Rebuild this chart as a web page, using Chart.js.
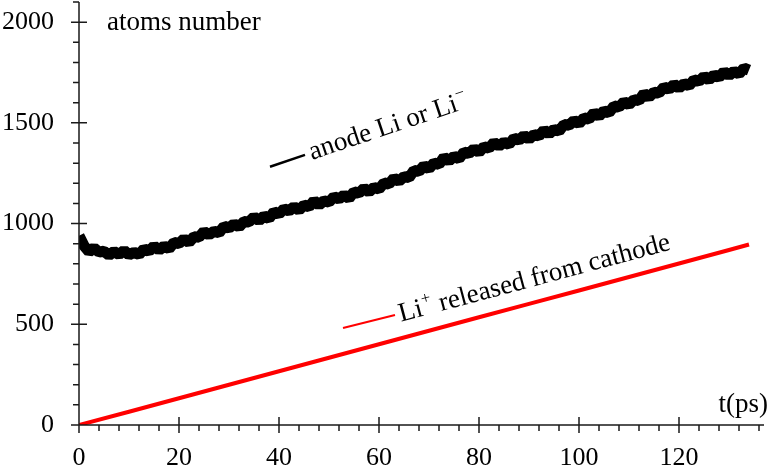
<!DOCTYPE html>
<html>
<head>
<meta charset="utf-8">
<script src="https://cdn.jsdelivr.net/npm/chart.js@4"></script>
<style>
  html, body { margin: 0; padding: 0; background: #fff; }
  #wrap { width: 774px; height: 469px; }
</style>
</head>
<body>
<div id="wrap"><canvas id="atomsChart" width="774" height="469"></canvas></div>
<script>
// Data
// ------------------------------------------------------------------
// anode Li / Li-, one value per ps from t = 0 to 134
const anodeLi = [
  940, 890, 860, 879, 858, 863, 843, 861, 846, 867,
  844, 857, 846, 875, 862, 889, 868, 888, 875, 906,
  901, 924, 906, 935, 932, 961, 944, 962, 954, 987,
  977, 999, 983, 1010, 1008, 1033, 1014, 1038, 1025, 1059,
  1047, 1074, 1063, 1083, 1066, 1092, 1083, 1114, 1092, 1113,
  1106, 1134, 1122, 1142, 1125, 1158, 1151, 1175, 1157, 1180,
  1171, 1202, 1196, 1226, 1210, 1233, 1228, 1264, 1259, 1288,
  1272, 1301, 1294, 1329, 1311, 1334, 1322, 1355, 1348, 1372,
  1354, 1382, 1374, 1403, 1385, 1404, 1393, 1424, 1414, 1438,
  1419, 1443, 1434, 1465, 1444, 1468, 1459, 1492, 1488, 1512,
  1496, 1525, 1519, 1551, 1533, 1560, 1550, 1584, 1578, 1605,
  1590, 1616, 1610, 1646, 1627, 1653, 1648, 1678, 1666, 1692,
  1673, 1695, 1684, 1714, 1706, 1731, 1713, 1738, 1726, 1755,
  1735, 1756, 1743, 1772, 1762
];
const anodeT = anodeLi.map((_, i) => i);

// Li+ released from cathode
const releasedT  = [0, 10, 20, 30, 40, 50, 60, 70, 80, 90, 100, 110, 120, 130, 134];
const releasedLi = [0, 66, 133, 200, 267, 334, 401, 468, 535, 601, 668, 735, 802, 869, 896];

// axis ranges / tick steps
const xMax = 137, xMajor = 20, xMinor = 4;
const yMax = 2100, yMajor = 500, yMinor = 100;

const FONT = '"Liberation Serif", "Times New Roman", serif';

// Tick marks + axis lines (crossing major ticks, outside minor ticks)
const axisTicks = {
  id: 'axisTicks',
  afterDraw(chart) {
    const { ctx, scales: { x, y } } = chart;
    const x0 = x.getPixelForValue(0);
    const y0 = y.getPixelForValue(0);
    ctx.save();
    ctx.strokeStyle = '#1a1a1a';
    ctx.lineWidth = 1.5;
    ctx.beginPath();
    // axis lines
    ctx.moveTo(x0, y.getPixelForValue(yMax));
    ctx.lineTo(x0, y0);
    ctx.moveTo(x0, y0);
    ctx.lineTo(x.getPixelForValue(xMax), y0);
    // y ticks
    for (let v = 0; v <= yMax; v += yMinor) {
      const py = y.getPixelForValue(v);
      if (v % yMajor === 0) { ctx.moveTo(x0 - 8, py); ctx.lineTo(x0 + 8, py); }
      else { ctx.moveTo(x0 - 6, py); ctx.lineTo(x0, py); }
    }
    // x ticks
    for (let t = 0; t <= xMax; t += xMinor) {
      const px = x.getPixelForValue(t);
      if (t % xMajor === 0) { ctx.moveTo(px, y0 - 8); ctx.lineTo(px, y0 + 8); }
      else { ctx.moveTo(px, y0); ctx.lineTo(px, y0 + 6); }
    }
    ctx.stroke();
    ctx.restore();
  }
};

// Text annotations placed in data coordinates
function supText(ctx, base, sup, px, py, size) {
  ctx.font = size + 'px ' + FONT;
  ctx.fillText(base, px, py);
  const w = ctx.measureText(base).width;
  ctx.font = Math.round(size * 0.62) + 'px ' + FONT;
  ctx.fillText(sup, px + w + 1, py - size * 0.42);
}

const chartText = {
  id: 'chartText',
  afterDatasetsDraw(chart) {
    const { ctx, scales: { x, y } } = chart;
    ctx.save();
    ctx.fillStyle = '#000';
    ctx.textBaseline = 'alphabetic';

    // y title
    ctx.font = '27px ' + FONT;
    ctx.textAlign = 'left';
    ctx.fillText('atoms number', x.getPixelForValue(5.6), y.getPixelForValue(1959));

    // x title
    ctx.textAlign = 'right';
    ctx.fillText('t(ps)', x.getPixelForValue(137.8), y.getPixelForValue(65));
    ctx.textAlign = 'left';

    // anode label
    ctx.strokeStyle = '#000';
    ctx.lineWidth = 2.5;
    ctx.beginPath();
    ctx.moveTo(x.getPixelForValue(38.2), y.getPixelForValue(1282));
    ctx.lineTo(x.getPixelForValue(45.2), y.getPixelForValue(1341));
    ctx.stroke();
    ctx.save();
    ctx.translate(x.getPixelForValue(46.6), y.getPixelForValue(1316));
    ctx.rotate(-18.5 * Math.PI / 180);
    ctx.font = '27px ' + FONT;
    const pre = 'anode Li or ';
    ctx.fillText(pre, 0, 0);
    supText(ctx, 'Li', '\u2212', ctx.measureText(pre).width, 0, 27);
    ctx.restore();

    // cathode label
    ctx.strokeStyle = '#ff0000';
    ctx.lineWidth = 2;
    ctx.beginPath();
    ctx.moveTo(x.getPixelForValue(52.8), y.getPixelForValue(482));
    ctx.lineTo(x.getPixelForValue(63.2), y.getPixelForValue(546));
    ctx.stroke();
    ctx.save();
    ctx.translate(x.getPixelForValue(64.4), y.getPixelForValue(512));
    ctx.rotate(-15 * Math.PI / 180);
    supText(ctx, 'Li', '+', 0, 0, 27);
    ctx.font = '27px ' + FONT;
    const liW = ctx.measureText('Li').width;
    ctx.fillText(' released from cathode', liW + 11, 0);
    ctx.restore();

    ctx.restore();
  }
};

const ctx = document.getElementById('atomsChart').getContext('2d');

new Chart(ctx, {
  type: 'line',
  data: {
    datasets: [
      {
        label: 'anode Li or Li-',
        data: anodeT.map((t, i) => ({ x: t, y: anodeLi[i] })),
        borderColor: '#000',
        borderWidth: 11,
        borderJoinStyle: 'bevel',
        borderCapStyle: 'butt',
        pointRadius: 0,
        tension: 0
      },
      {
        label: 'Li+ released from cathode',
        data: releasedT.map((t, i) => ({ x: t, y: releasedLi[i] })),
        borderColor: '#ff0000',
        borderWidth: 4,
        pointRadius: 0,
        tension: 0
      }
    ]
  },
  options: {
    responsive: false,
    animation: false,
    layout: { padding: { top: 2, right: 10, left: 0, bottom: 0 } },
    plugins: { legend: { display: false }, tooltip: { enabled: false } },
    scales: {
      x: {
        type: 'linear',
        min: 0,
        max: xMax,
        grid: { display: false, drawTicks: false },
        border: { display: false },
        afterFit: (s) => { s.height = 44; s.paddingLeft = 0; s.paddingRight = 0; },
        ticks: {
          stepSize: xMinor,
          autoSkip: false,
          maxRotation: 0,
          padding: 18,
          color: '#000',
          font: { family: FONT, size: 26 },
          callback: (v) => (v % xMajor === 0 ? String(v) : '')
        }
      },
      y: {
        min: 0,
        max: yMax,
        grid: { display: false, drawTicks: false },
        border: { display: false },
        afterFit: (s) => { s.width = 79; s.paddingTop = 0; s.paddingBottom = 0; },
        ticks: {
          stepSize: yMinor,
          autoSkip: false,
          padding: 25,
          color: '#000',
          font: { family: FONT, size: 26 },
          callback: (v) => (v % yMajor === 0 ? String(v) : '')
        }
      }
    }
  },
  plugins: [axisTicks, chartText]
});
</script>
</body>
</html>
